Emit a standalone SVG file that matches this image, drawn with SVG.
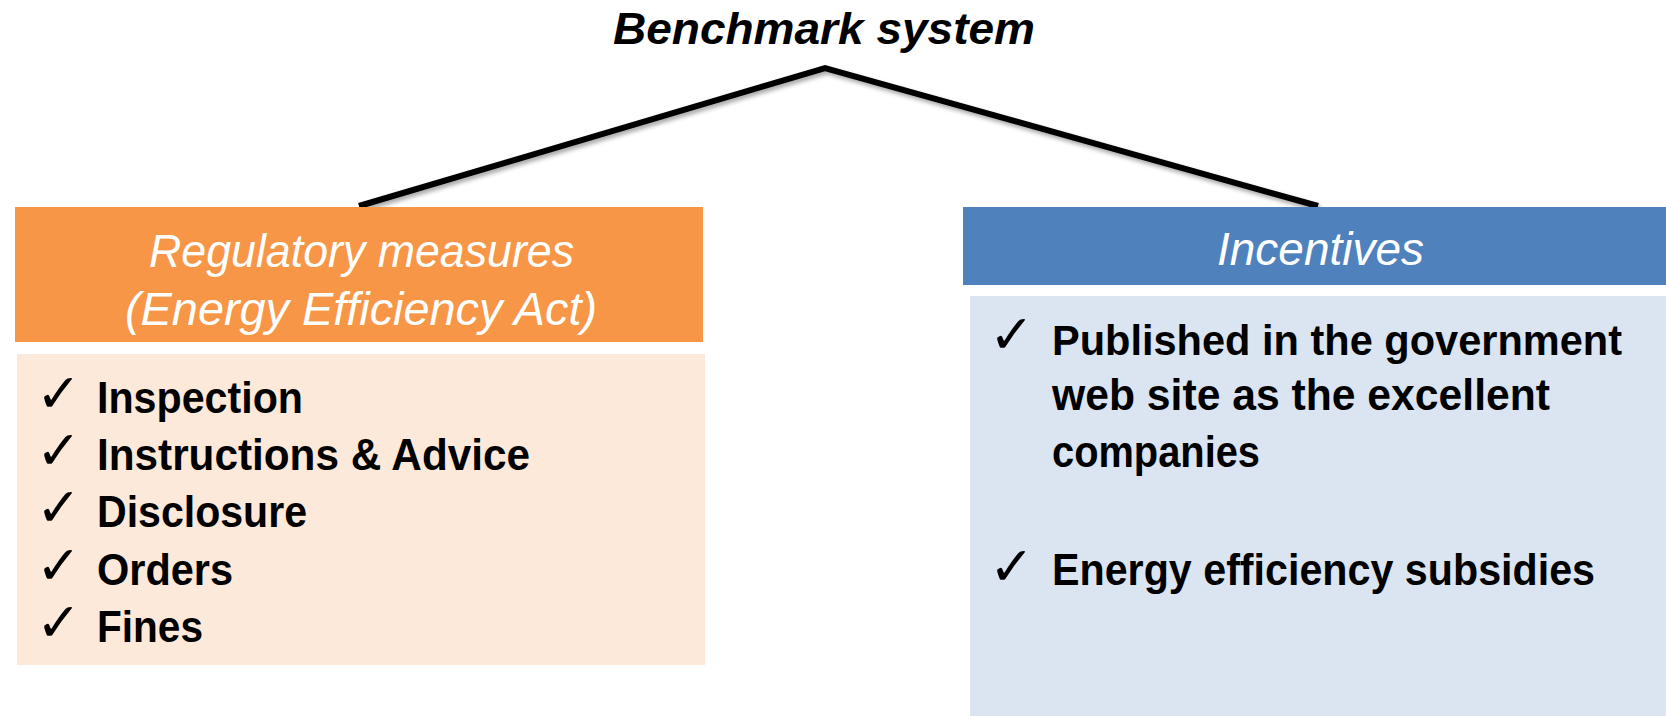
<svg xmlns="http://www.w3.org/2000/svg" width="1666" height="716" viewBox="0 0 1666 716">
  <defs>
    <filter id="lineShadow" x="-5%" y="-20%" width="110%" height="140%">
      <feDropShadow dx="2" dy="3" stdDeviation="2" flood-color="#000" flood-opacity="0.35"/>
    </filter>
    <style>
      .title { font-family: "Liberation Sans", Arial, sans-serif; font-weight: bold; font-style: italic; font-size: 44px; fill: #000; }
      .head { font-family: "Liberation Sans", Arial, sans-serif; font-style: italic; font-size: 46px; fill: #fff; }
      .item { font-family: "Liberation Sans", Arial, sans-serif; font-weight: bold; font-size: 45px; fill: #000; }
      .long { font-size: 43px; }
      .tick { font-family: "DejaVu Sans", sans-serif; font-size: 54px; fill: #000; }
      .branch { fill: none; stroke: #000; stroke-width: 6; stroke-linejoin: miter; }
    </style>
  </defs>

  <rect width="1666" height="716" fill="#fff"/>

  <!-- root label -->
  <g id="benchmark">
    <text class="title" x="613" y="44" textLength="422" lengthAdjust="spacingAndGlyphs">Benchmark system</text>
  </g>

  <!-- branches from the root to both columns -->
  <g id="connectors" filter="url(#lineShadow)">
    <polyline class="branch" points="359,206 825,68 1318,206"/>
  </g>

  <!-- left column: regulatory measures -->
  <g id="regulatory">
    <rect x="15" y="207" width="688" height="135" fill="#F79646"/>
    <text class="head" x="149" y="267" textLength="425" lengthAdjust="spacingAndGlyphs">Regulatory measures</text>
    <text class="head" x="125" y="325" textLength="472" lengthAdjust="spacingAndGlyphs">(Energy Efficiency Act)</text>
  </g>
  <g id="regulatory-list">
    <rect x="17" y="354" width="688" height="311" fill="#FDE9D9"/>
    <text class="tick" x="36" y="412">✓</text>
    <text class="item" x="97" y="413" textLength="206" lengthAdjust="spacingAndGlyphs">Inspection</text>
    <text class="tick" x="36" y="469">✓</text>
    <text class="item" x="97" y="470" textLength="433" lengthAdjust="spacingAndGlyphs">Instructions &amp; Advice</text>
    <text class="tick" x="36" y="526">✓</text>
    <text class="item" x="97" y="527" textLength="210" lengthAdjust="spacingAndGlyphs">Disclosure</text>
    <text class="tick" x="36" y="584">✓</text>
    <text class="item" x="97" y="585" textLength="136" lengthAdjust="spacingAndGlyphs">Orders</text>
    <text class="tick" x="36" y="641">✓</text>
    <text class="item" x="97" y="642" textLength="106" lengthAdjust="spacingAndGlyphs">Fines</text>
  </g>

  <!-- right column: incentives -->
  <g id="incentives">
    <rect x="963" y="207" width="703" height="78" fill="#4F81BD"/>
    <text class="head" x="1217" y="265" textLength="207" lengthAdjust="spacingAndGlyphs">Incentives</text>
  </g>
  <g id="incentives-list">
    <rect x="970" y="296" width="696" height="420" fill="#DBE5F1"/>
    <text class="tick" x="989" y="353">✓</text>
    <text class="item long" x="1052" y="355" textLength="570" lengthAdjust="spacingAndGlyphs">Published in the government</text>
    <text class="item" x="1052" y="410" textLength="498" lengthAdjust="spacingAndGlyphs">web site as the excellent</text>
    <text class="item" x="1052" y="467" textLength="208" lengthAdjust="spacingAndGlyphs">companies</text>
    <text class="tick" x="989" y="585">✓</text>
    <text class="item" x="1052" y="585" textLength="543" lengthAdjust="spacingAndGlyphs">Energy efficiency subsidies</text>
  </g>
</svg>
